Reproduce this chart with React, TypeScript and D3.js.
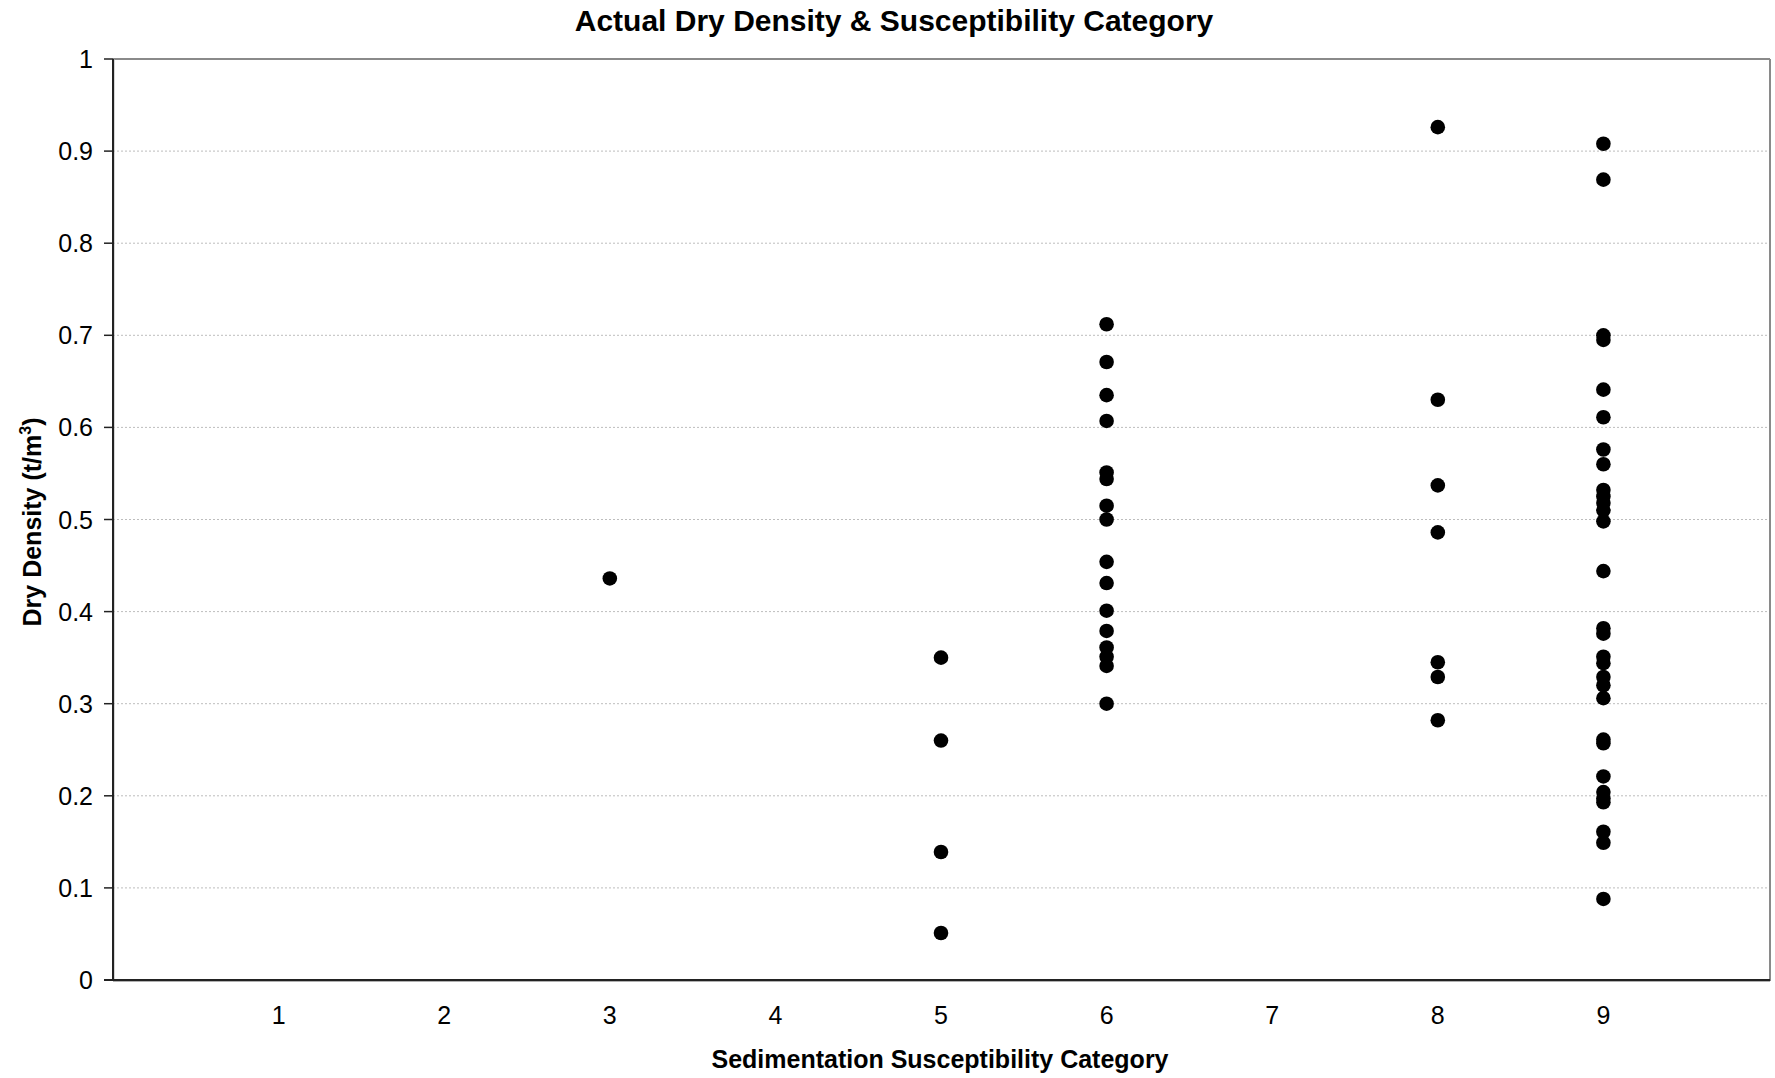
import React from "react";
import * as d3 from "d3";

const title = "Actual Dry Density & Susceptibility Category";
const xTitle = "Sedimentation Susceptibility Category";
const yTitle = "Dry Density (t/m";
const xTicks = [1, 2, 3, 4, 5, 6, 7, 8, 9];
const yTicks = [0, 0.1, 0.2, 0.3, 0.4, 0.5, 0.6, 0.7, 0.8, 0.9, 1];

const cat3 = [0.436];
const cat5 = [0.35, 0.26, 0.139, 0.051];
const cat6 = [0.712, 0.671, 0.635, 0.607, 0.551, 0.544, 0.515, 0.5, 0.454, 0.431, 0.401, 0.379, 0.361, 0.351, 0.341, 0.3];
const cat8 = [0.926, 0.63, 0.537, 0.486, 0.345, 0.329, 0.282];
const cat9 = [
  0.908, 0.869, 0.7, 0.695, 0.641, 0.611, 0.576, 0.56, 0.532, 0.525, 0.518, 0.51, 0.498,
  0.444, 0.382, 0.376, 0.351, 0.344, 0.329, 0.32, 0.306, 0.261, 0.257, 0.221, 0.204,
  0.197, 0.193, 0.161, 0.149, 0.088,
];

const series: [number, number[]][] = [
  [3, cat3],
  [5, cat5],
  [6, cat6],
  [8, cat8],
  [9, cat9],
];

const W = 1775;
const H = 1078;
const left = 113;
const right = 1770;
const top = 59;
const bottom = 980;

export default function App() {
  const x = d3.scaleLinear().domain([0, 10]).range([left, left + 1656]);
  const y = d3.scaleLinear().domain([0, 1]).range([bottom, top]);
  const points = series.flatMap(([c, vals]) => vals.map((v) => ({ c, v })));
  const font = "'Liberation Sans', Arial, sans-serif";

  return (
    <div style={{ position: "absolute", left: 0, top: 0 }}>
      <svg width={W} height={H} style={{ display: "block", background: "#fff" }} fontFamily={font}>
        <rect x={0} y={0} width={W} height={H} fill="#fff" />
        {yTicks.filter((t) => t > 0 && t < 1).map((t) => (
          <line key={"g" + t} x1={left} x2={right} y1={y(t)} y2={y(t)} stroke="#bdbdbd" strokeWidth={1} strokeDasharray="2,2" />
        ))}
        <line x1={left} x2={right} y1={top} y2={top} stroke="#8a8a8a" strokeWidth={2} />
        <line x1={right} x2={right} y1={top} y2={bottom + 1} stroke="#8a8a8a" strokeWidth={2} />
        <line x1={left + 1} x2={left + 1} y1={top} y2={bottom + 1} stroke="#b0b0b0" strokeWidth={1} />
        <line x1={left} x2={right} y1={bottom + 1.5} y2={bottom + 1.5} stroke="#b0b0b0" strokeWidth={1} />
        <line x1={left} x2={left} y1={top} y2={bottom} stroke="#222" strokeWidth={2} />
        <line x1={left - 9} x2={right} y1={bottom} y2={bottom} stroke="#222" strokeWidth={2} />
        {yTicks.map((t) => (
          <g key={"t" + t}>
            <line x1={left - 9} x2={left} y1={y(t)} y2={y(t)} stroke="#222" strokeWidth={1.5} />
            <text x={93} y={y(t)} dy="0.36em" textAnchor="end" fontSize={25} fill="#000">
              {d3.format("")(t)}
            </text>
          </g>
        ))}
        {xTicks.map((t) => (
          <text key={"x" + t} x={x(t)} y={1024} textAnchor="middle" fontSize={25} fill="#000">
            {t}
          </text>
        ))}
        {points.map((p, i) => (
          <circle key={i} cx={x(p.c)} cy={y(p.v)} r={7.3} fill="#000" />
        ))}
        <text x={894} y={31} textAnchor="middle" fontSize={30} fontWeight="bold" fill="#000">
          {title}
        </text>
        <text x={940} y={1068} textAnchor="middle" fontSize={25} fontWeight="bold" fill="#000">
          {xTitle}
        </text>
        <text transform="translate(41,522) rotate(-90)" textAnchor="middle" fontSize={25} fontWeight="bold" fill="#000">
          {yTitle}
          <tspan dy="-10" fontSize={16}>3</tspan>
          <tspan dy="10">)</tspan>
        </text>
      </svg>
    </div>
  );
}
